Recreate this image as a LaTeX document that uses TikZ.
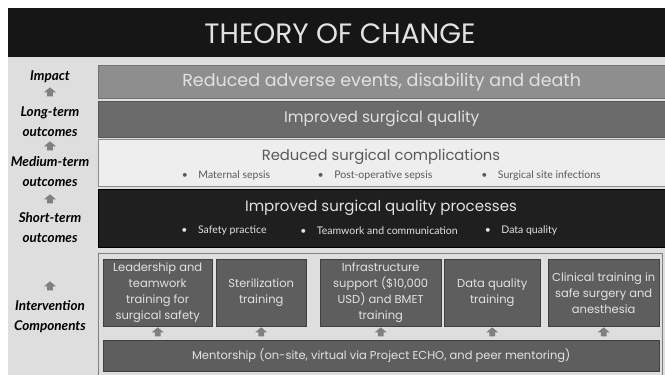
\documentclass[tikz,border=0pt]{standalone}
\usepackage{fontspec}
\setmainfont{Poppins}
\newfontfamily\bulletfont{Lato}
\newfontfamily\labelfont{Lato}
\usetikzlibrary{positioning,shapes.arrows}

\definecolor{bgGrey}{HTML}{DEDEDE}
\definecolor{titleBlack}{HTML}{161616}
\definecolor{impactGrey}{HTML}{8E8E8E}
\definecolor{longGrey}{HTML}{6B6B6B}
\definecolor{mediumGrey}{HTML}{EEEEEE}
\definecolor{shortBlack}{HTML}{1F1F1F}
\definecolor{compGrey}{HTML}{5E5E5E}
\definecolor{lightText}{HTML}{E2E2E2}
\definecolor{darkText}{HTML}{5A5A5A}
\definecolor{arrowGrey}{HTML}{808080}

\newcommand{\bul}{\textbullet\quad}

\begin{document}
\begin{tikzpicture}[x=1pt, y=-1pt,
    every node/.append style={align=center, inner sep=0pt},
    tier/.style={draw=#1!80!black, fill=#1, anchor=north west,
                 minimum width=567pt, text=lightText},
    comp/.style={draw=black!75, fill=compGrey, anchor=north west,
                 minimum height=67pt, text=lightText,
                 font=\fontsize{11.5}{16}\selectfont},
    lbl/.style={font=\labelfont\bfseries\itshape\fontsize{13.5}{20}\selectfont},
    blt/.style={font=\bulletfont\fontsize{10.5}{12}\selectfont},
    uparrow/.style={single arrow, shape border rotate=90, fill=arrowGrey,
                    inner sep=2.5pt, minimum height=9pt, minimum width=12pt,
                    single arrow head extend=3pt, single arrow tip angle=100}]

  \useasboundingbox (0,0) rectangle (665,375);
  \fill[bgGrey] (8,57) rectangle (665,375);
  \fill[titleBlack] (8,8) rectangle (665,57);
  \node[text=lightText, font=\fontsize{28}{32}\selectfont] (title) at (340,34) {THEORY OF CHANGE};

  % result tiers
  \node[tier=impactGrey, minimum height=33pt, font=\fontsize{17.5}{20}\selectfont] (impact) at (98,65)
       {Reduced adverse events, disability and death};
  \node[tier=longGrey, minimum height=36pt, font=\fontsize{15.3}{18}\selectfont] (long) at (98,101)
       {Improved surgical quality};
  \node[tier=mediumGrey, draw=black!45, minimum height=47pt] (medium) at (98,139) {};
  \node[text=darkText, font=\fontsize{14.8}{18}\selectfont] (mediumT) at (381,157) {Reduced surgical complications};
  \node[blt, text=darkText] (m1) at (226,176) {\bul Maternal sepsis};
  \node[blt, text=darkText] (m2) at (375,176) {\bul Post-operative sepsis};
  \node[blt, text=darkText] (m3) at (541,176) {\bul Surgical site infections};

  \node[tier=shortBlack, draw=black, minimum height=58pt] (short) at (98,189) {};
  \node[text=lightText, font=\fontsize{15}{18}\selectfont] (shortT) at (381,208) {Improved surgical quality processes};
  \node[blt, text=lightText] (s1) at (224,231) {\bul Safety practice};
  \node[blt, text=lightText] (s2) at (379,231) {\bul Teamwork and communication};
  \node[blt, text=lightText] (s3) at (521,231) {\bul Data quality};

  % intervention components
  \draw[draw=black!50, fill=bgGrey] (98,253) rectangle (662,376);
  \node[comp, minimum width=109pt] (lead) at (103,259)
       {Leadership and\\teamwork\\training for\\surgical safety};
  \node[comp, minimum width=90pt] (steril) at (216,259) {Sterilization\\training};
  \node[comp, minimum width=121pt] (infra) at (320,259)
       {Infrastructure\\support (\$10,000\\USD) and BMET\\training};
  \node[comp, minimum width=96pt] (dataq) at (444,259) {Data quality\\training};
  \node[comp, minimum width=111pt] (clin) at (548,259)
       {Clinical training in\\safe surgery and\\anesthesia};
  \node[comp, minimum width=556pt, minimum height=31pt] (mentor) at (103,340)
       {Mentorship (on-site, virtual via Project ECHO, and peer mentoring)};

  \foreach \c in {lead, steril, infra, dataq, clin}
    \node[uparrow] (a-\c) at (\c.south |- 0,333) {};

  % left labels
  \node[lbl] (lImpact) at (50,77) {Impact};
  \node[uparrow] (a1) at (50,93) {};
  \node[lbl] (lLong) at (50,122) {Long-term\\outcomes};
  \node[uparrow] (a2) at (50,147) {};
  \node[lbl] (lMedium) at (50,172) {Medium-term\\outcomes};
  \node[uparrow] (a3) at (50,200) {};
  \node[lbl] (lShort) at (50,228) {Short-term\\outcomes};
  \node[uparrow] (a4) at (50,287) {};
  \node[lbl] (lComp) at (50,317) {Intervention\\Components};
\end{tikzpicture}
\end{document}
